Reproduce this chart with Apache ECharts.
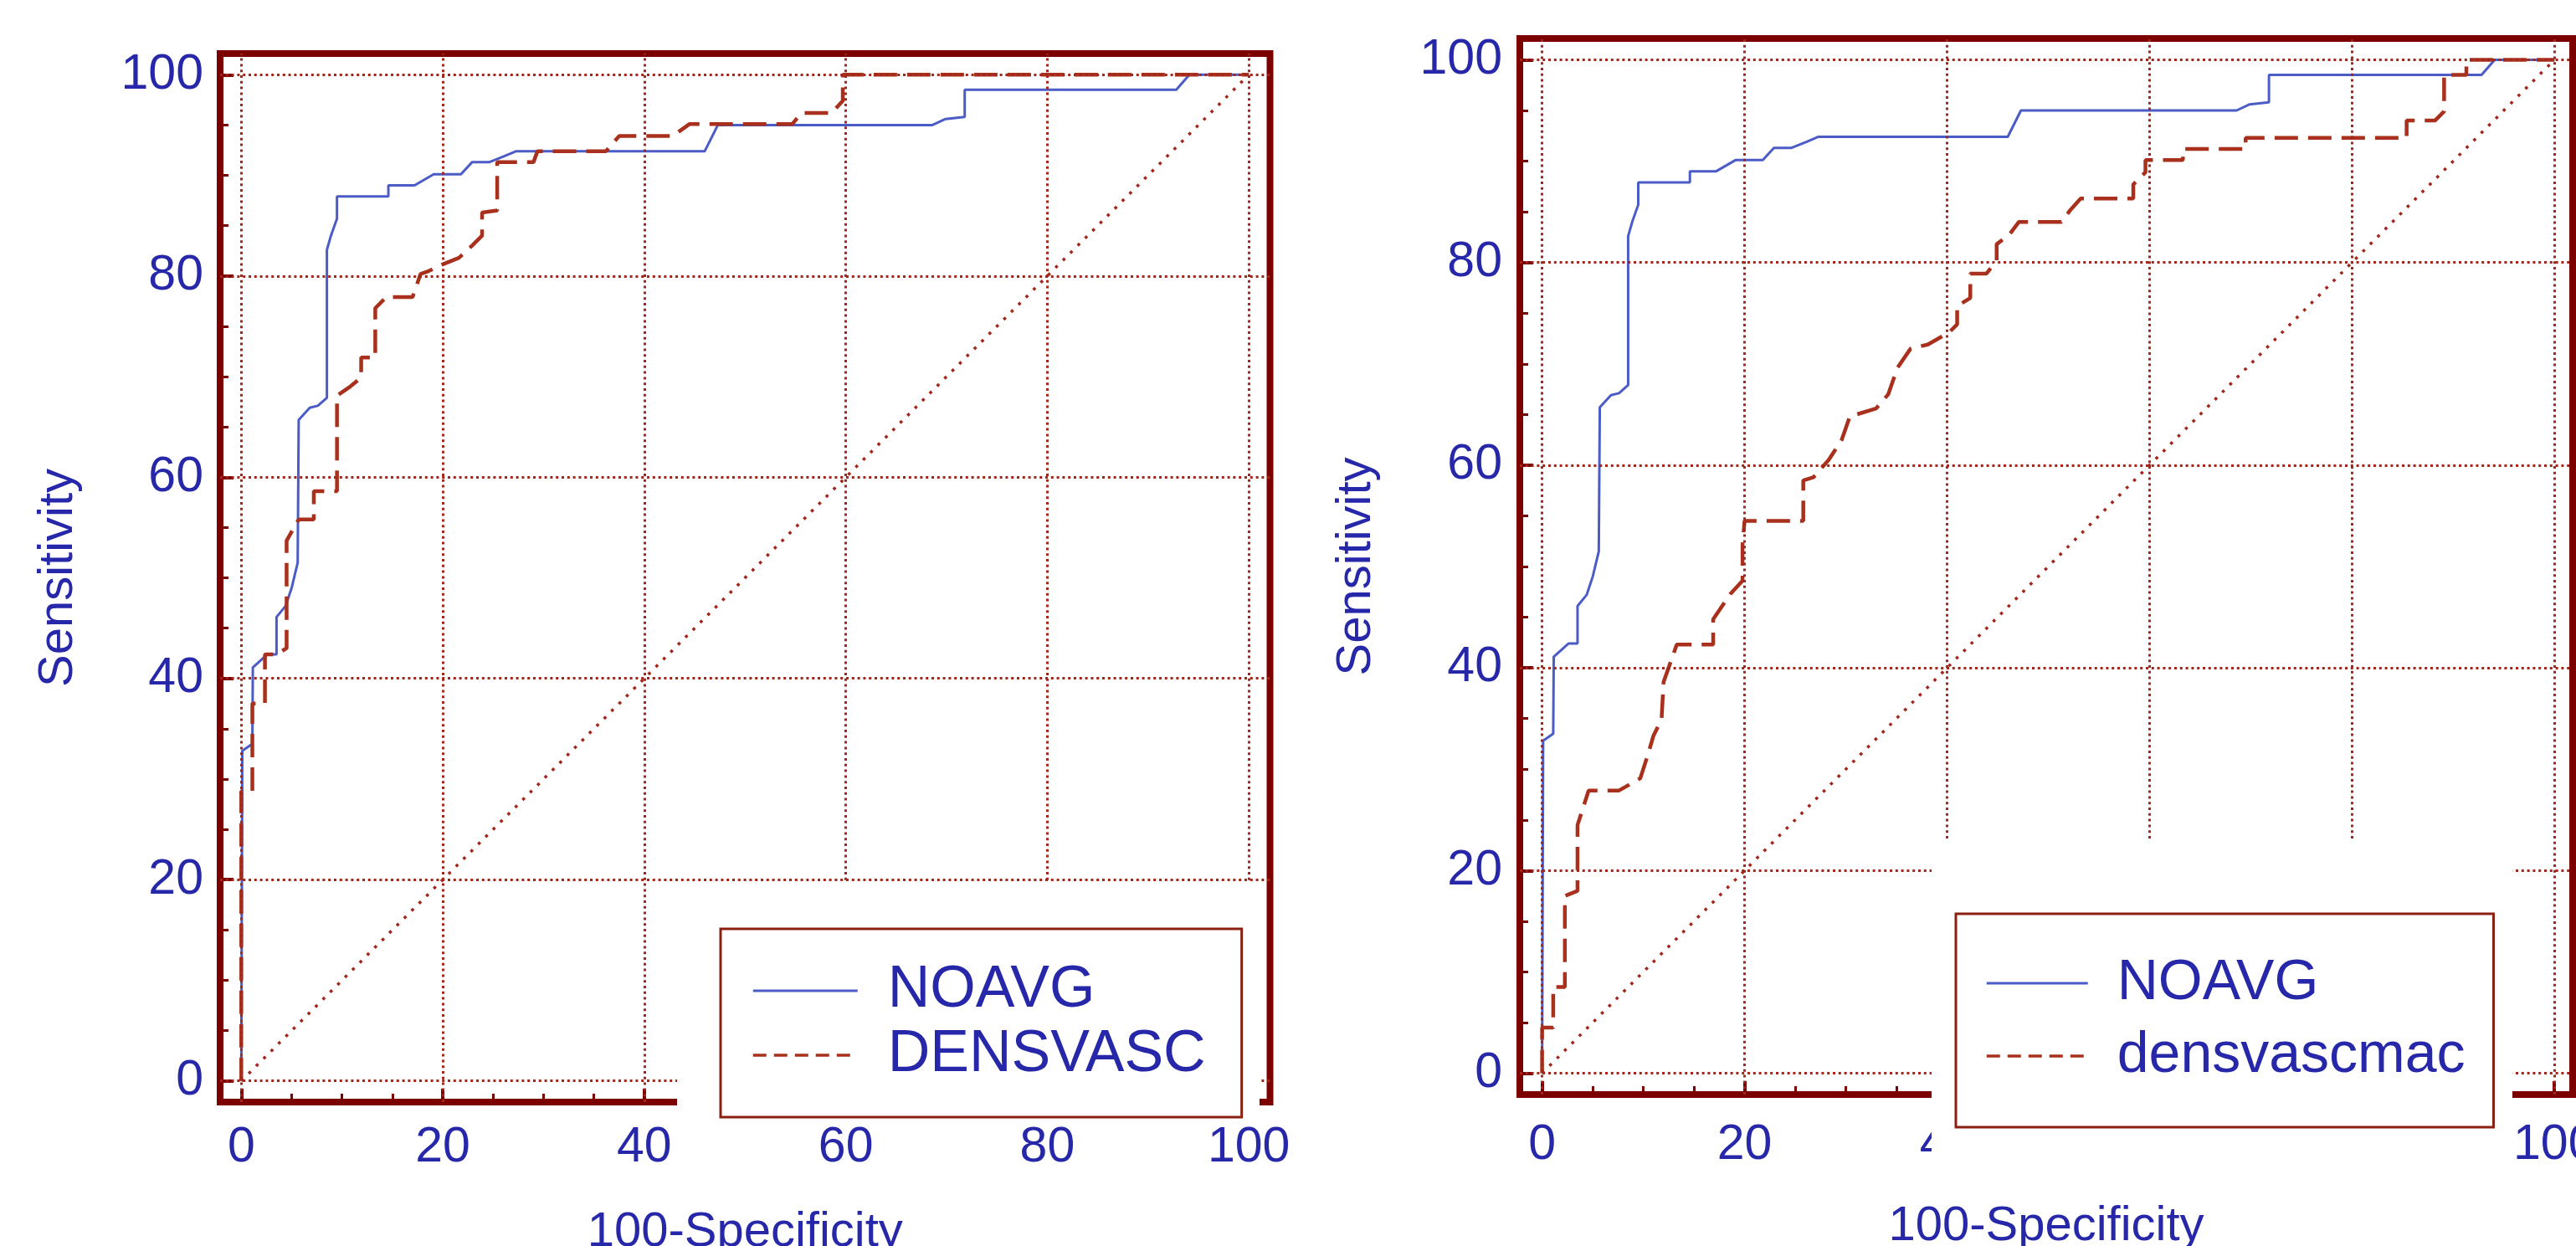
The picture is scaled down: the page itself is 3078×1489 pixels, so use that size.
<!DOCTYPE html>
<html><head><meta charset="utf-8">
<script src="https://cdn.jsdelivr.net/npm/echarts@6/dist/echarts.min.js"></script>
<style>html,body{margin:0;padding:0;background:#fff}#c{width:3078px;height:1489px}</style>
</head><body><div id="c"></div>
<script>
// ---- data ----
const tickValues = [0, 20, 40, 60, 80, 100];
const minorTickValues = [0, 5, 10, 15, 20, 25, 30, 35, 40, 45, 50, 55, 60, 65, 70, 75, 80, 85, 90, 95, 100];
const noavg = [[0,0],[0.1,32.8],[1.1,33.5],[1.15,41.1],[2.6,42.4],[3.5,42.4],[3.5,46.1],[4.4,47.2],[5.0,49],[5.6,51.5],[5.7,65.7],[6.8,66.9],[7.6,67.1],[8.5,67.9],[8.5,82.6],[8.9,84],[9.5,85.7],[9.5,87.9],[14.6,87.9],[14.6,89],[17.2,89],[19.1,90.1],[21.8,90.1],[22.9,91.3],[24.6,91.3],[26.1,91.9],[27.3,92.4],[46,92.4],[47.3,95],[68.6,95],[69.9,95.6],[71.8,95.8],[71.8,98.5],[92.8,98.5],[94.1,100],[100,100]];
const densvasc = [[0,0],[0,28.8],[1.1,28.8],[1.1,37.5],[2.35,37.5],[2.35,42.4],[3.5,42.4],[4.5,43],[4.5,53.7],[5.7,55.8],[7.2,55.8],[7.2,58.6],[9.5,58.6],[9.5,68.1],[10.8,69],[11.9,69.9],[11.9,71.9],[13.3,71.9],[13.3,76.8],[14.4,77.9],[17,77.9],[17.8,80.2],[18.4,80.4],[20.1,81.2],[21.6,81.8],[22.9,83],[23.9,84],[23.9,86.3],[25.4,86.5],[25.4,91.3],[29,91.3],[29.4,92.4],[36.2,92.4],[37.5,93.9],[42.8,93.9],[44.5,95.1],[54.7,95.1],[55.6,96.2],[58.6,96.2],[59.7,97.4],[59.7,100],[100,100]];
const densvascmac = [[0,0],[0,4.5],[1.1,4.5],[1.1,8.5],[2.25,8.5],[2.25,17.5],[3.5,18],[3.5,24.5],[4.6,27.9],[7.6,27.9],[9.7,29.1],[10.5,31.6],[11,33.3],[11.8,34.9],[12,38.6],[13.3,42.3],[16.9,42.3],[16.9,44.8],[18.6,47.3],[19.8,48.6],[19.8,52.2],[20,54.5],[25.8,54.5],[25.8,58.5],[26.8,58.8],[28.3,60.5],[29.6,62.5],[30.4,64.8],[33,65.6],[34.2,67],[35.1,69.6],[36.4,71.5],[38.1,71.9],[40.2,73.1],[41,73.9],[41,75.7],[42.3,76.5],[42.3,78.9],[43.9,78.9],[44.9,80.2],[44.9,81.8],[46.2,82.8],[47.1,84],[51.3,84],[52.2,85.2],[53.2,86.3],[58.4,86.3],[58.4,87.7],[59.6,88.9],[59.6,90.1],[63.3,90.1],[63.3,91.2],[69.5,91.2],[69.5,92.3],[85.4,92.3],[85.4,94],[88.2,94],[89.1,94.9],[89.1,98.5],[91.3,98.5],[91.3,100],[100,100]];
const diagonal = [[0,0],[100,100]];
const xTitle = '100-Specificity';
const yTitle = 'Sensitivity';

// ---- styles ----
const FONT = 'Liberation Sans, Arial, sans-serif';
const TXT = '#2727a9';
const FRAME = '#7d0000';
const GRIDC = '#a3261a';
const BLUE = '#4b5cc6';
const RED = '#a8301c';
const NOFILL = 'rgba(0,0,0,0)';

function mainAxis(gi, min, max, pos, margin, name, nameGap) {
  return {
    type: 'value', gridIndex: gi, min: min, max: max, position: pos,
    axisLine: { show: false, onZero: false },
    axisTick: { show: true, inside: true, length: 16, customValues: tickValues, lineStyle: { color: FRAME, width: 4 } },
    axisLabel: { show: true, customValues: tickValues, margin: margin, color: TXT, fontSize: 59, fontFamily: FONT },
    splitLine: { show: false },
    name: name, nameLocation: 'middle', nameGap: nameGap,
    nameTextStyle: { color: TXT, fontSize: 58, fontFamily: FONT, lineHeight: 58 }
  };
}
function minorAxis(gi, min, max, pos) {
  return {
    type: 'value', gridIndex: gi, min: min, max: max, position: pos,
    axisLine: { show: false, onZero: false },
    axisTick: { show: true, inside: true, length: 10, customValues: minorTickValues, lineStyle: { color: FRAME, width: 3 } },
    axisLabel: { show: false }, splitLine: { show: false }
  };
}
function gridSeries(xi, yi) {
  return {
    type: 'line', name: 'reference', xAxisIndex: xi, yAxisIndex: yi, data: diagonal, symbol: 'none', silent: true, z: 2,
    lineStyle: { color: GRIDC, width: 3.5, type: [3.5, 9] },
    markLine: {
      silent: true, symbol: ['none', 'none'], label: { show: false }, animation: false,
      lineStyle: { color: GRIDC, width: 3, type: [3, 3.8] },
      emphasis: { disabled: true },
      data: tickValues.map(v => ({ xAxis: v })).concat(tickValues.map(v => ({ yAxis: v })))
    }
  };
}
function curve(name, data, xi, yi, color, width, type) {
  return { type: 'line', name: name, xAxisIndex: xi, yAxisIndex: yi, data: data, symbol: 'none', silent: true, z: 4,
    lineStyle: { color: color, width: width, type: type }, itemStyle: { color: color } };
}
const legendItemStyle = { color: NOFILL, borderColor: NOFILL, borderWidth: 0, opacity: 0 };

const chart = echarts.init(document.getElementById('c'), null, { renderer: 'canvas' });
chart.setOption({
  animation: false,
  backgroundColor: '#ffffff',
  grid: [
    { left: 263, top: 64, width: 1254.5, height: 1253, show: true, borderColor: FRAME, borderWidth: 8, backgroundColor: 'transparent', containLabel: false, outerBoundsMode: 'none' },
    { left: 1816, top: 46, width: 1258, height: 1262, show: true, borderColor: FRAME, borderWidth: 8, backgroundColor: 'transparent', containLabel: false, outerBoundsMode: 'none' }
  ],
  xAxis: [
    mainAxis(0, -2.1, 102.1, 'bottom', 25, xTitle, 127),
    minorAxis(0, -2.1, 102.1, 'bottom'),
    mainAxis(1, -2.2, 101.8, 'bottom', 31, xTitle, 129),
    minorAxis(1, -2.2, 101.8, 'bottom')
  ],
  yAxis: [
    mainAxis(0, -2.1, 102.1, 'left', 20, yTitle, 164),
    minorAxis(0, -2.1, 102.1, 'left'),
    mainAxis(1, -2.1, 102.1, 'left', 21, yTitle, 166),
    minorAxis(1, -2.1, 102.1, 'left')
  ],
  legend: [
    { data: [{ name: 'NOAVG', lineStyle: { width: 3 } }, { name: 'DENSVASC', lineStyle: { type: [16, 9], width: 3.5 } }],
      orient: 'vertical', left: 861, top: 1110, padding: [39, 43, 39, 37],
      itemWidth: 125, itemHeight: 64, itemGap: 7, selectedMode: false,
      itemStyle: legendItemStyle,
      backgroundColor: '#ffffff', borderColor: '#8b2012', borderWidth: 3, borderRadius: 0, z: 60,
      textStyle: { color: TXT, fontSize: 70, fontFamily: FONT, lineHeight: 64, padding: [0, 0, 0, 31] } },
    { data: [{ name: 'NOAVG', lineStyle: { width: 3 } }, { name: 'densvascmac', lineStyle: { type: [16, 9], width: 3.5 } }],
      orient: 'vertical', left: 2337, top: 1092, padding: [48, 34, 50, 35],
      itemWidth: 121, itemHeight: 70, itemGap: 17, selectedMode: false,
      itemStyle: legendItemStyle,
      backgroundColor: '#ffffff', borderColor: '#8b2012', borderWidth: 3, borderRadius: 0, z: 60,
      textStyle: { color: TXT, fontSize: 68, fontFamily: FONT, lineHeight: 70, padding: [0, 0, 0, 30] } }
  ],
  graphic: {
    elements: [
      { type: 'rect', silent: true, z: 50, shape: { x: 809, y: 1053, width: 696, height: 283 }, style: { fill: '#ffffff' } },
      { type: 'rect', silent: true, z: 50, shape: { x: 2308, y: 1005, width: 694, height: 415 }, style: { fill: '#ffffff' } }
    ]
  },
  series: [
    gridSeries(0, 0),
    curve('NOAVG', noavg, 0, 0, BLUE, 3, 'solid'),
    curve('DENSVASC', densvasc, 0, 0, RED, 4.5, [28, 12]),
    gridSeries(2, 2),
    curve('NOAVG', noavg, 2, 2, BLUE, 3, 'solid'),
    curve('densvascmac', densvascmac, 2, 2, RED, 4.5, [28, 12])
  ]
});
</script>
</body></html>
